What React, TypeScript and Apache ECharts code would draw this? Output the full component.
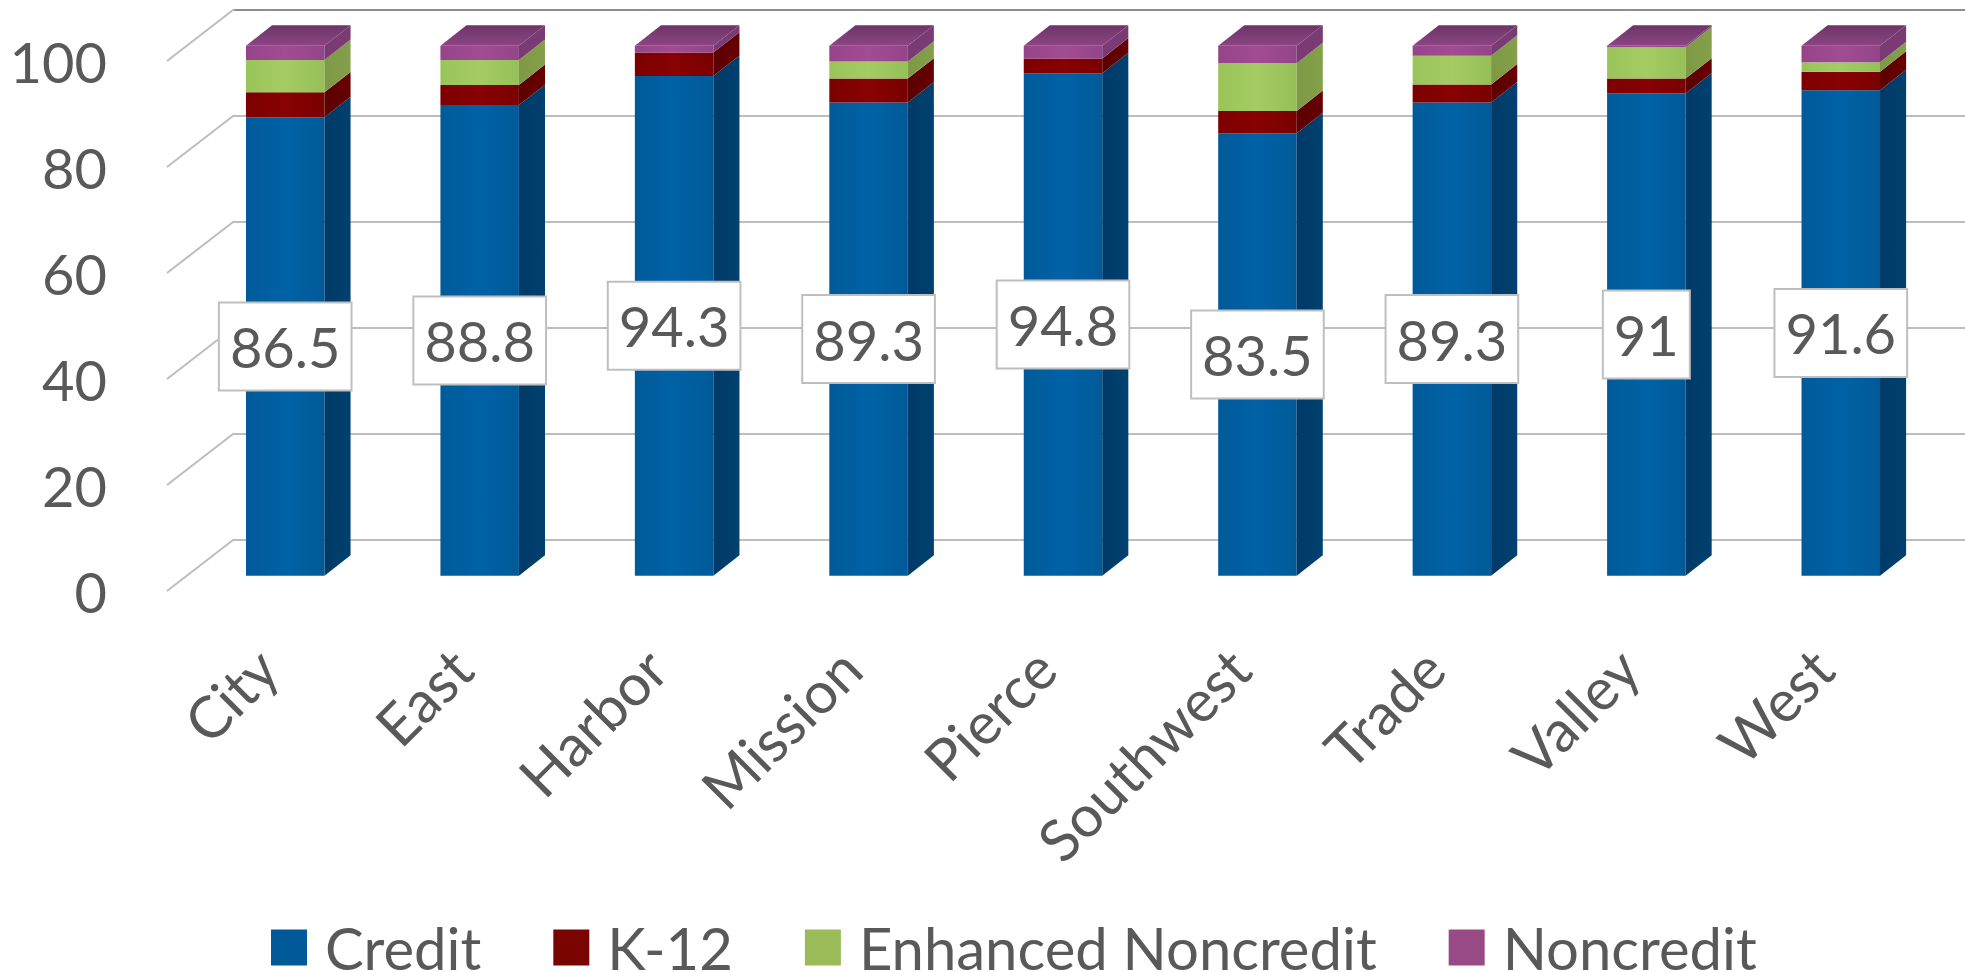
import React, { useEffect, useRef } from "react";
import * as echarts from "echarts";

const categories = ["City", "East", "Harbor", "Mission", "Pierce", "Southwest", "Trade", "Valley", "West"];
const credit = [86.5, 88.8, 94.3, 89.3, 94.8, 83.5, 89.3, 91, 91.6];
const k12 = [4.7, 3.8, 4.4, 4.5, 2.8, 4.2, 3.4, 2.8, 3.5];
const enhanced = [6.1, 4.7, 0, 3.2, 0, 9.0, 5.4, 5.9, 1.8];
const noncredit = [2.7, 2.7, 1.3, 3.0, 2.4, 3.3, 1.9, 0.3, 3.1];
const seriesNames = ["Credit", "K-12", "Enhanced Noncredit", "Noncredit"];
const yTicks = [0, 20, 40, 60, 80, 100];

const FONT = "Lato";
const TEXT = "#595959";
const legendColors = ["#005a9a", "#7a0400", "#9bbb59", "#974a84"];
const frontColors = [
  ["#005a99", "#0062a6", "#005a98"],
  ["#7c0000", "#880202", "#7a0000"],
  ["#9ac45a", "#a4cc62", "#96bf58"],
  ["#96448a", "#a24c92", "#93458a"],
];
const sideColors = [
  ["#003a68", "#00416f"],
  ["#5c0000", "#680000"],
  ["#7d9945", "#84a04a"],
  ["#7a3a74", "#7a3a74"],
];
const topColors = ["#6d3469", "#8c4583"];

function linear(stops: string[], vertical = false) {
  return {
    type: "linear",
    x: 0,
    y: 0,
    x2: vertical ? 0 : 1,
    y2: vertical ? 1 : 0,
    colorStops: stops.map((color, i) => ({ offset: i / (stops.length - 1), color })),
  };
}

const stacks = [credit, k12, enhanced, noncredit];
function segments(idx: number) {
  return categories.map((_, c) => {
    let start = 0;
    for (let s = 0; s < idx; s++) start += stacks[s][c];
    return [c, start, start + stacks[idx][c]];
  });
}

function boxRenderer(idx: number) {
  return (_params: any, api: any) => {
    const c = api.value(0);
    const lo = api.value(1);
    const hi = api.value(2);
    if (hi - lo <= 0) return { type: "group", children: [] };
    const base = api.coord([c, lo]);
    const top = api.coord([c, hi]);
    const band = api.size([1, 0])[0];
    const w = band * 0.4037;
    const dx = band * 0.1342;
    const dy = band * 0.105;
    const l = base[0] - w / 2;
    const r = base[0] + w / 2;
    const children: any[] = [
      {
        type: "rect",
        shape: { x: l, y: top[1], width: w, height: base[1] - top[1] },
        style: { fill: linear(frontColors[idx]) },
      },
      {
        type: "polygon",
        shape: {
          points: [
            [r, base[1]],
            [r + dx, base[1] - dy],
            [r + dx, top[1] - dy],
            [r, top[1]],
          ],
        },
        style: { fill: linear(sideColors[idx]) },
      },
    ];
    if (idx === stacks.length - 1) {
      children.push({
        type: "polygon",
        shape: {
          points: [
            [l, top[1]],
            [r, top[1]],
            [r + dx, top[1] - dy],
            [l + dx, top[1] - dy],
          ],
        },
        style: { fill: linear(topColors, true) },
      });
    }
    return { type: "group", children };
  };
}

export default function App() {
  const ref = useRef<HTMLDivElement>(null);
  useEffect(() => {
    document.body.style.margin = "0";
    document.body.style.background = "#ffffff";
    const chart = echarts.init(ref.current!, undefined, { renderer: "svg" });
    const textBase = { fontFamily: FONT, color: TEXT };
    chart.setOption({
      animation: false,
      backgroundColor: "#ffffff",
      grid: [
        { left: 188, width: 1750, top: 45.7, height: 530 },
        { left: 234, right: 0, top: 10, height: 529.3 },
        { left: 167, width: 67, top: 61, height: 530 },
      ],
      xAxis: [
        {
          type: "category",
          gridIndex: 0,
          data: categories,
          axisLine: { show: false },
          axisTick: { show: false },
          axisLabel: {
            ...textBase,
            fontSize: 58,
            rotate: 45,
            margin: 64,
            interval: 0,
            padding: [0, 26, 0, 0],
          },
        },
        { type: "value", gridIndex: 1, min: 0, max: 1, show: false },
        { type: "value", gridIndex: 2, min: 0, max: 1, show: false },
      ],
      yAxis: [
        { type: "value", gridIndex: 0, min: 0, max: 100, interval: 20, show: false },
        {
          type: "value",
          gridIndex: 1,
          min: 0,
          max: 100,
          interval: 20,
          axisLine: { show: false },
          axisTick: { show: false },
          axisLabel: { show: false },
          splitLine: {
            show: true,
            lineStyle: {
              color: ["#bdbdbd", "#bdbdbd", "#bdbdbd", "#bdbdbd", "#bdbdbd", "#8e8e8e"],
              width: 2,
            },
          },
        },
        {
          type: "value",
          gridIndex: 2,
          min: 0,
          max: 100,
          interval: 20,
          axisLine: { show: false },
          axisTick: { show: false },
          splitLine: { show: false },
          axisLabel: { ...textBase, fontSize: 56, margin: 60, align: "right" },
        },
      ],
      legend: {
        data: seriesNames,
        left: 271,
        top: 915,
        padding: 0,
        itemWidth: 36,
        itemHeight: 36,
        itemGap: 72,
        icon: "rect",
        selectedMode: false,
        textStyle: { ...textBase, fontSize: 58, lineHeight: 44, padding: [0, 0, 21, 13] },
      },
      series: [
        {
          type: "custom",
          name: "gridSlant",
          xAxisIndex: 2,
          yAxisIndex: 2,
          silent: true,
          data: yTicks.map((v) => [0, v]),
          renderItem: (_p: any, api: any) => {
            const p = api.coord([0, api.value(1)]);
            return {
              type: "line",
              shape: { x1: p[0], y1: p[1], x2: p[0] + 67, y2: p[1] - 51.7 },
              style: { stroke: "#bdbdbd", lineWidth: 2 },
            };
          },
        },
        ...seriesNames.map((name, i) => ({
          type: "custom",
          name,
          xAxisIndex: 0,
          yAxisIndex: 0,
          silent: true,
          itemStyle: { color: legendColors[i] },
          data: segments(i),
          renderItem: boxRenderer(i),
          encode: { x: 0, y: [1, 2] },
        })),
        {
          type: "custom",
          name: "creditLabels",
          xAxisIndex: 0,
          yAxisIndex: 0,
          silent: true,
          z: 10,
          data: credit.map((v, c) => [c, v]),
          renderItem: (_p: any, api: any) => {
            const v = api.value(1);
            const p = api.coord([api.value(0), v / 2]);
            return {
              type: "text",
              style: {
                text: String(v),
                x: p[0],
                y: p[1],
                align: "center",
                verticalAlign: "middle",
                fontFamily: FONT,
                fontSize: 56,
                lineHeight: 64,
                fill: TEXT,
                backgroundColor: "#ffffff",
                borderColor: "#bfbfbf",
                borderWidth: 2,
                padding: [11, 10],
              },
            };
          },
        },
      ],
    });
    return () => chart.dispose();
  }, []);
  return <div ref={ref} style={{ width: 1965, height: 972 }} />;
}
